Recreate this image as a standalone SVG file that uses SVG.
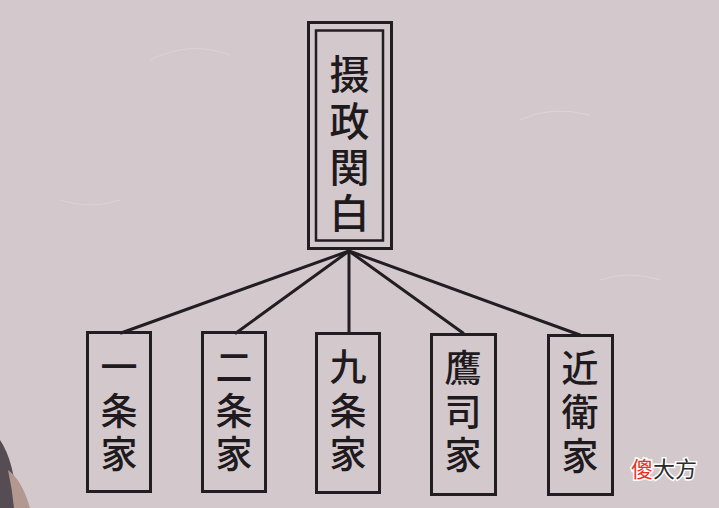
<svg xmlns="http://www.w3.org/2000/svg" width="719" height="508" viewBox="0 0 719 508">
<style>
.box{fill:none;stroke:#221d20;stroke-width:3}
.inner{fill:none;stroke:#221d20;stroke-width:2.5}
.ln{stroke:#221d20;stroke-width:3;fill:none;stroke-linecap:round}
.t{font-family:"Liberation Sans","Noto Sans CJK JP","Noto Sans CJK SC",sans-serif;fill:#1f1a1d;text-anchor:middle;font-weight:500}
.big{font-size:40px}
.sm{font-size:37px}
</style>
<rect width="719" height="508" fill="#d3c9cd"/>
<g fill="none" stroke="#e0d8db" stroke-width="1" opacity="0.7">
<path d="M150 60 q40 -20 80 -5"/><path d="M520 120 q30 -15 70 -5"/><path d="M600 280 q30 -10 60 0"/><path d="M60 200 q30 10 60 0"/>
</g>
<path d="M0 440 Q14 460 18 508 L0 508 Z" fill="#564c54"/>
<path d="M8 470 Q22 480 30 508 L14 508 Q12 488 8 470 Z" fill="#b39890"/>
<g id="connectors">
<path class="ln" d="M349 251 L121 333"/>
<path class="ln" d="M349 251 L236 333"/>
<path class="ln" d="M349 251 L349 333"/>
<path class="ln" d="M349 251 L463 333"/>
<path class="ln" d="M349 251 L580 335"/>
</g>
<g id="sessho-kampaku">
<rect class="box" x="308.5" y="22.5" width="83" height="226"/>
<rect class="inner" x="316" y="30.5" width="67" height="210"/>
<text class="t big" x="349.5" y="89">摄</text>
<text class="t big" x="349.5" y="136">政</text>
<text class="t big" x="349.5" y="182">関</text>
<text class="t big" x="349.5" y="228">白</text>
</g>
<g id="ichijo">
<rect class="box" x="87.5" y="332.5" width="63" height="159"/>
<text class="t sm" x="119" y="381">一</text>
<text class="t sm" x="119" y="425">条</text>
<text class="t sm" x="119" y="468">家</text>
</g>
<g id="nijo">
<rect class="box" x="202.5" y="332.5" width="63" height="159"/>
<text class="t sm" x="234" y="381">二</text>
<text class="t sm" x="234" y="425">条</text>
<text class="t sm" x="234" y="468">家</text>
</g>
<g id="kujo">
<rect class="box" x="316.5" y="333.5" width="63" height="159"/>
<text class="t sm" x="348" y="381">九</text>
<text class="t sm" x="348" y="425">条</text>
<text class="t sm" x="348" y="468">家</text>
</g>
<g id="takatsukasa">
<rect class="box" x="431.5" y="334.5" width="64" height="160"/>
<text class="t sm" x="463" y="382">鷹</text>
<text class="t sm" x="463" y="426">司</text>
<text class="t sm" x="463" y="469">家</text>
</g>
<g id="konoe">
<rect class="box" x="548.5" y="335.5" width="64" height="159"/>
<text class="t sm" x="580" y="382">近</text>
<text class="t sm" x="580" y="426">衛</text>
<text class="t sm" x="580" y="470">家</text>
</g>
<g id="watermark" font-family="'Noto Sans CJK SC',sans-serif" font-size="22" stroke="#ffffff" stroke-width="3" paint-order="stroke">
<text x="631" y="477" fill="#e8321e">傻<tspan fill="#2a2a2a">大方</tspan></text>
</g>
</svg>
